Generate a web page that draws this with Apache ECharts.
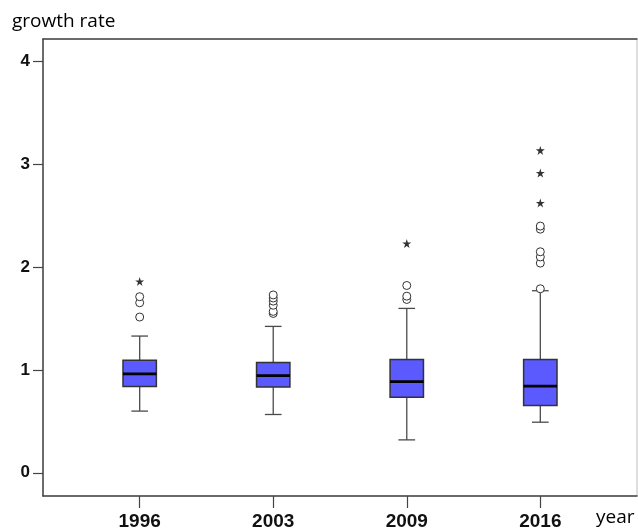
<!DOCTYPE html>
<html>
<head>
<meta charset="utf-8">
<script src="https://cdn.jsdelivr.net/npm/echarts@6/dist/echarts.min.js"></script>
<style>html,body{margin:0;padding:0;background:#fff}#c{width:638px;height:531px}</style>
</head>
<body>
<div id="c"></div>
<script>
// ---- data ----
const years = ['1996', '2003', '2009', '2016'];
const whiskerLow  = [0.60, 0.567, 0.32, 0.492];
const quartile1   = [0.840, 0.835, 0.735, 0.654];
const medians     = [0.963, 0.946, 0.887, 0.843];
const quartile3   = [1.095, 1.072, 1.101, 1.101];
const whiskerHigh = [1.330, 1.424, 1.599, 1.771];
const circleOutliers = [
  [1.515, 1.654, 1.713],
  [1.55, 1.57, 1.63, 1.67, 1.70, 1.73],
  [1.686, 1.718, 1.822],
  [1.79, 2.04, 2.10, 2.15, 2.37, 2.40]
];
const starOutliers = [
  [1.861],
  [],
  [2.23],
  [2.625, 2.916, 3.136]
];
const yTicks = [0, 1, 2, 3, 4];

// ---- build series data ----
const boxData = years.map((y, i) => [i, whiskerLow[i], quartile1[i], medians[i], quartile3[i], whiskerHigh[i]]);
const circleData = [];
circleOutliers.forEach((arr, i) => arr.forEach(v => circleData.push([i, v])));
const starData = [];
starOutliers.forEach((arr, i) => arr.forEach(v => starData.push([i, v])));
const xIdx = years.map((y, i) => i);

const STAR = 'path://M0,-1 L0.2245,-0.309 L0.951,-0.309 L0.363,0.118 L0.5878,0.809 L0,0.382 L-0.5878,0.809 L-0.363,0.118 L-0.951,-0.309 L-0.2245,-0.309 Z';

const chart = echarts.init(document.getElementById('c'), null, {renderer: 'canvas'});
const axisColor = '#444';
chart.setOption({
  animation: false,
  backgroundColor: '#fff',
  grid: {left: 43, right: 1, top: 39, bottom: 34, show: true, borderColor: '#bdbdbd', borderWidth: 1, backgroundColor: 'transparent'},
  graphic: [
    {type: 'text', left: 12, top: 12, style: {text: 'growth rate', font: '500 19px "Open Sans"', fill: '#000'}},
    {type: 'text', left: 596, top: 508, style: {text: 'year', font: '500 19px "Open Sans"', fill: '#000'}}
  ],
  xAxis: [{
    type: 'value', min: -0.724, max: 3.724, position: 'bottom',
    axisLine: {show: true, onZero: false, lineStyle: {color: axisColor, width: 1.5}},
    axisTick: {show: true, customValues: xIdx, length: 12, lineStyle: {color: axisColor, width: 1.2}},
    axisLabel: {customValues: xIdx, formatter: v => years[Math.round(v)], margin: 16,
      fontSize: 19, fontWeight: 'bold', fontFamily: '"Liberation Sans", Arial, sans-serif', color: '#111'},
    splitLine: {show: false}
  }, {
    type: 'value', min: -0.724, max: 3.724, position: 'top',
    axisLine: {show: true, onZero: false, lineStyle: {color: axisColor, width: 1.5}},
    axisTick: {show: false}, axisLabel: {show: false}, splitLine: {show: false}
  }],
  yAxis: {
    type: 'value', min: -0.226, max: 4.22,
    axisLine: {show: true, onZero: false, lineStyle: {color: axisColor, width: 1.5}},
    axisTick: {show: true, customValues: yTicks, length: 10, lineStyle: {color: axisColor, width: 1.2}},
    axisLabel: {customValues: yTicks, margin: 13, fontSize: 17, fontWeight: 'bold',
      fontFamily: '"Liberation Sans", Arial, sans-serif', color: '#111'},
    splitLine: {show: false}
  },
  series: [{
    type: 'custom',
    data: boxData,
    encode: {x: 0, y: [1, 2, 3, 4, 5]},
    renderItem: function (params, api) {
      const x = api.value(0);
      const pMin = api.coord([x, api.value(1)]);
      const pQ1 = api.coord([x, api.value(2)]);
      const pMed = api.coord([x, api.value(3)]);
      const pQ3 = api.coord([x, api.value(4)]);
      const pMax = api.coord([x, api.value(5)]);
      const w = api.size([0.25, 0])[0];
      const cx = pMed[0];
      const cap = w / 4;
      const wl = {stroke: '#4a4a4a', lineWidth: 1.3};
      return {
        type: 'group',
        children: [
          {type: 'line', shape: {x1: cx, y1: pMax[1], x2: cx, y2: pQ3[1]}, style: wl},
          {type: 'line', shape: {x1: cx, y1: pQ1[1], x2: cx, y2: pMin[1]}, style: wl},
          {type: 'line', shape: {x1: cx - cap, y1: pMax[1], x2: cx + cap, y2: pMax[1]}, style: wl},
          {type: 'line', shape: {x1: cx - cap, y1: pMin[1], x2: cx + cap, y2: pMin[1]}, style: wl},
          {type: 'rect', shape: {x: cx - w / 2, y: pQ3[1], width: w, height: pQ1[1] - pQ3[1]},
            style: {fill: '#5a5aff', stroke: '#333', lineWidth: 1.5}},
          {type: 'line', shape: {x1: cx - w / 2, y1: pMed[1], x2: cx + w / 2, y2: pMed[1]},
            style: {stroke: '#000', lineWidth: 2.8}}
        ]
      };
    }
  }, {
    type: 'scatter', data: circleData, symbol: 'circle', symbolSize: 8,
    itemStyle: {color: '#fff', borderColor: '#333', borderWidth: 1, opacity: 1}
  }, {
    type: 'scatter', data: starData, symbol: STAR, symbolSize: 9,
    itemStyle: {color: '#333', opacity: 1}
  }]
});
</script>
</body>
</html>
